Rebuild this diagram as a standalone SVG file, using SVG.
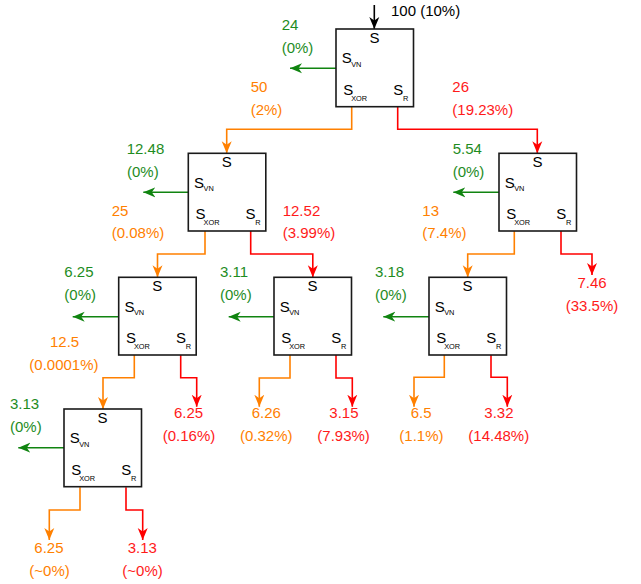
<svg xmlns="http://www.w3.org/2000/svg" width="641" height="584" viewBox="0 0 641 584">
<style>
text{font-family:"Liberation Sans",Arial,sans-serif;}
.box{fill:#fff;stroke:#1a1a1a;stroke-width:1.6;}
.s{font-size:15px;fill:#000;}
.sub{font-size:7.4px;fill:#000;}
.lbl{font-size:15px;}
.g{fill:#1e8c1e;}
.o{fill:#ff8000;}
.r{fill:#ff1a1a;}
.k{fill:#000;}
.cg{fill:none;stroke:#108410;stroke-width:1.6;marker-end:url(#ag);}
.co{fill:none;stroke:#ff8000;stroke-width:1.6;marker-end:url(#ao);}
.cr{fill:none;stroke:#ff0000;stroke-width:1.6;marker-end:url(#ar);}
.ck{fill:none;stroke:#000;stroke-width:1.6;marker-end:url(#ak);}
</style>
<defs>
<marker id="ag" markerUnits="userSpaceOnUse" markerWidth="13" markerHeight="12" viewBox="0 0 13 12" refX="12" refY="6" orient="auto"><path d="M0,1 L12,6 L0,11 L3.5,6 z" fill="#108410"/></marker>
<marker id="ao" markerUnits="userSpaceOnUse" markerWidth="13" markerHeight="12" viewBox="0 0 13 12" refX="12" refY="6" orient="auto"><path d="M0,1 L12,6 L0,11 L3.5,6 z" fill="#ff8000"/></marker>
<marker id="ar" markerUnits="userSpaceOnUse" markerWidth="13" markerHeight="12" viewBox="0 0 13 12" refX="12" refY="6" orient="auto"><path d="M0,1 L12,6 L0,11 L3.5,6 z" fill="#ff0000"/></marker>
<marker id="ak" markerUnits="userSpaceOnUse" markerWidth="13" markerHeight="12" viewBox="0 0 13 12" refX="12" refY="6" orient="auto"><path d="M0,1 L12,6 L0,11 L3.5,6 z" fill="#000"/></marker>
</defs>

<g id="connectors">
<path class="ck" d="M374.3,5 V29"/>
<path class="cg" d="M336,68.3 H290"/>
<path class="co" d="M351.7,107 V129.3 H226.7 V153.3"/>
<path class="cr" d="M397.7,107 V129.3 H537.3 V153.3"/>
<path class="cg" d="M188.3,192.3 H143.3"/>
<path class="co" d="M205,230.7 V254 H157.5 V277.3"/>
<path class="cr" d="M250.7,230.7 V254 H312.8 V277.3"/>
<path class="cg" d="M499,192.3 H453.3"/>
<path class="co" d="M514.3,230.7 V254 H467.7 V277.3"/>
<path class="cr" d="M561,230.7 V254 H592 V275"/>
<path class="cg" d="M118.7,316.7 H72.7"/>
<path class="co" d="M134.3,355 V377.7 H103 V409"/>
<path class="cr" d="M180.7,355 V377.7 H196.7 V406.7"/>
<path class="cg" d="M274,316.7 H228.7"/>
<path class="co" d="M290,355 V378 H259.3 V406.7"/>
<path class="cr" d="M336,355 V378 H352.3 V406.7"/>
<path class="cg" d="M429,316.7 H383.3"/>
<path class="co" d="M444.3,355 V377.3 H414 V406.7"/>
<path class="cr" d="M491,355 V377.3 H507.3 V406.7"/>
<path class="cg" d="M64,447.7 H18.3"/>
<path class="co" d="M80,487.3 V510 H49.3 V540"/>
<path class="cr" d="M126,487.3 V510 H142.7 V540"/>
</g>

<g id="n1" transform="translate(336,29)">
<rect class="box" x="0" y="0" width="77.5" height="77.7"/>
<text class="s" x="38.5" y="14" text-anchor="middle">S</text>
<text class="s" x="5.7" y="34.3">S</text><text class="sub" x="15.2" y="37.5">VN</text>
<text class="s" x="7.3" y="65.5">S</text><text class="sub" x="15.2" y="72">XOR</text>
<text class="s" x="57.3" y="65.5">S</text><text class="sub" x="67" y="72">R</text>
</g>
<g id="n2" transform="translate(188.3,153.3)">
<rect class="box" x="0" y="0" width="77.5" height="77.7"/>
<text class="s" x="38.5" y="14" text-anchor="middle">S</text>
<text class="s" x="5.7" y="34.3">S</text><text class="sub" x="15.2" y="37.5">VN</text>
<text class="s" x="7.3" y="65.5">S</text><text class="sub" x="15.2" y="72">XOR</text>
<text class="s" x="57.3" y="65.5">S</text><text class="sub" x="67" y="72">R</text>
</g>
<g id="n3" transform="translate(499,153.3)">
<rect class="box" x="0" y="0" width="77.5" height="77.7"/>
<text class="s" x="38.5" y="14" text-anchor="middle">S</text>
<text class="s" x="5.7" y="34.3">S</text><text class="sub" x="15.2" y="37.5">VN</text>
<text class="s" x="7.3" y="65.5">S</text><text class="sub" x="15.2" y="72">XOR</text>
<text class="s" x="57.3" y="65.5">S</text><text class="sub" x="67" y="72">R</text>
</g>
<g id="n4" transform="translate(118.7,277.3)">
<rect class="box" x="0" y="0" width="77.5" height="77.7"/>
<text class="s" x="38.5" y="14" text-anchor="middle">S</text>
<text class="s" x="5.7" y="34.3">S</text><text class="sub" x="15.2" y="37.5">VN</text>
<text class="s" x="7.3" y="65.5">S</text><text class="sub" x="15.2" y="72">XOR</text>
<text class="s" x="57.3" y="65.5">S</text><text class="sub" x="67" y="72">R</text>
</g>
<g id="n5" transform="translate(274,277.3)">
<rect class="box" x="0" y="0" width="77.5" height="77.7"/>
<text class="s" x="38.5" y="14" text-anchor="middle">S</text>
<text class="s" x="5.7" y="34.3">S</text><text class="sub" x="15.2" y="37.5">VN</text>
<text class="s" x="7.3" y="65.5">S</text><text class="sub" x="15.2" y="72">XOR</text>
<text class="s" x="57.3" y="65.5">S</text><text class="sub" x="67" y="72">R</text>
</g>
<g id="n6" transform="translate(429,277.3)">
<rect class="box" x="0" y="0" width="77.5" height="77.7"/>
<text class="s" x="38.5" y="14" text-anchor="middle">S</text>
<text class="s" x="5.7" y="34.3">S</text><text class="sub" x="15.2" y="37.5">VN</text>
<text class="s" x="7.3" y="65.5">S</text><text class="sub" x="15.2" y="72">XOR</text>
<text class="s" x="57.3" y="65.5">S</text><text class="sub" x="67" y="72">R</text>
</g>
<g id="n7" transform="translate(64,409)">
<rect class="box" x="0" y="0" width="77.5" height="77.7"/>
<text class="s" x="38.5" y="14" text-anchor="middle">S</text>
<text class="s" x="5.7" y="34.3">S</text><text class="sub" x="15.2" y="37.5">VN</text>
<text class="s" x="7.3" y="65.5">S</text><text class="sub" x="15.2" y="72">XOR</text>
<text class="s" x="57.3" y="65.5">S</text><text class="sub" x="67" y="72">R</text>
</g>

<g id="labels">
<text class="lbl k" x="391" y="16">100 (10%)</text>
<text class="lbl g" x="281.7" y="30">24</text><text class="lbl g" x="281.7" y="52.5">(0%)</text>
<text class="lbl o" x="250.7" y="92.3">50</text><text class="lbl o" x="250.7" y="115">(2%)</text>
<text class="lbl r" x="452.3" y="92.3">26</text><text class="lbl r" x="452.3" y="115">(19.23%)</text>
<text class="lbl g" x="126.7" y="154">12.48</text><text class="lbl g" x="127" y="176.5">(0%)</text>
<text class="lbl o" x="111.7" y="215.7">25</text><text class="lbl o" x="111.7" y="238.3">(0.08%)</text>
<text class="lbl r" x="282.7" y="215.7">12.52</text><text class="lbl r" x="282.7" y="238.3">(3.99%)</text>
<text class="lbl g" x="452.7" y="154">5.54</text><text class="lbl g" x="452.7" y="176.5">(0%)</text>
<text class="lbl o" x="422.3" y="215.7">13</text><text class="lbl o" x="422.3" y="238.3">(7.4%)</text>
<text class="lbl r" x="592" y="288.3" text-anchor="middle">7.46</text><text class="lbl r" x="592" y="310.8" text-anchor="middle">(33.5%)</text>
<text class="lbl g" x="64.3" y="277.3">6.25</text><text class="lbl g" x="64.3" y="300">(0%)</text>
<text class="lbl o" x="50" y="347.3">12.5</text><text class="lbl o" x="29.3" y="370">(0.0001%)</text>
<text class="lbl g" x="220" y="277.3">3.11</text><text class="lbl g" x="220" y="300">(0%)</text>
<text class="lbl g" x="375" y="277.3">3.18</text><text class="lbl g" x="375" y="300">(0%)</text>
<text class="lbl r" x="174" y="418.3">6.25</text><text class="lbl r" x="162.7" y="440.5">(0.16%)</text>
<text class="lbl o" x="251.7" y="418.3">6.26</text><text class="lbl o" x="240" y="440.5">(0.32%)</text>
<text class="lbl r" x="329.3" y="418.3">3.15</text><text class="lbl r" x="317.3" y="440.5">(7.93%)</text>
<text class="lbl o" x="410.7" y="418.3">6.5</text><text class="lbl o" x="399.3" y="440.5">(1.1%)</text>
<text class="lbl r" x="484.3" y="418.3">3.32</text><text class="lbl r" x="468.3" y="440.5">(14.48%)</text>
<text class="lbl g" x="10" y="409">3.13</text><text class="lbl g" x="10" y="431.7">(0%)</text>
<text class="lbl o" x="34.3" y="553.3">6.25</text><text class="lbl o" x="29.3" y="575.5">(~0%)</text>
<text class="lbl r" x="127.7" y="553.3">3.13</text><text class="lbl r" x="122.3" y="575.5">(~0%)</text>
</g>
</svg>
